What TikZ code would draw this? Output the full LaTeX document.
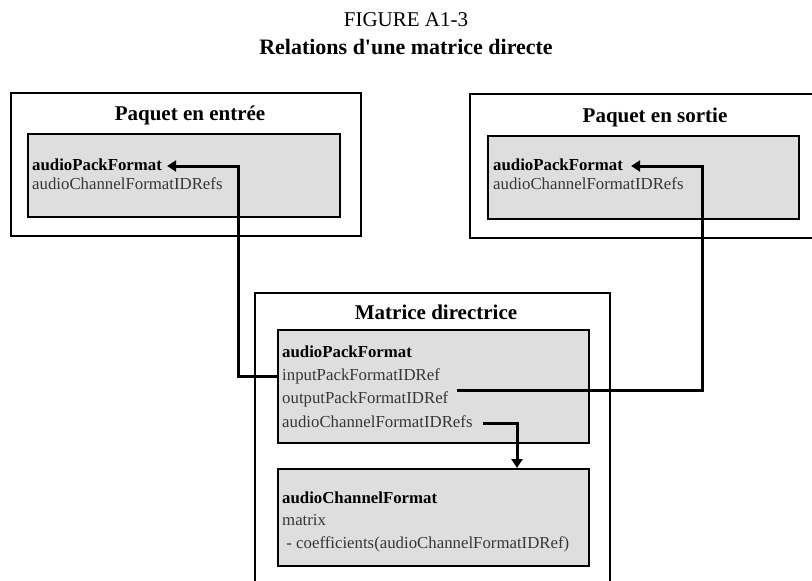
\documentclass[tikz,border=0pt]{standalone}
\usepackage{fontspec}
\setmainfont{Liberation Serif}[Ligatures=TeXOff]
\usetikzlibrary{arrows.meta}
\definecolor{boxfill}{HTML}{DEDEDE}
\definecolor{bodytext}{HTML}{363636}
\tikzset{
  outerbox/.style={draw=black, line width=2pt, fill=white, inner sep=0pt, anchor=north west},
  innerbox/.style={draw=black, line width=2.2pt, fill=boxfill, inner sep=0pt, anchor=north west},
  boxtitle/.style={font=\fontsize{21}{24}\selectfont\bfseries, inner sep=0pt, anchor=base},
  field/.style={font=\fontsize{16.8}{19}\selectfont, text=bodytext, inner sep=0pt, anchor=base west,
                text height=12pt, text depth=4pt},
  keyfield/.style={field, text=black, font=\fontsize{16.8}{19}\selectfont\bfseries},
  link/.style={draw=black, line width=3pt, line join=miter,
               -{Triangle[length=9pt,width=11pt]}},
}
\begin{document}
\begin{tikzpicture}[x=1pt,y=-1pt]
\path[use as bounding box, fill=white] (0,0) rectangle (812,581);
\begin{scope}
\clip (0,0) rectangle (812,581);

% heading
\node[font=\fontsize{21}{24}\selectfont, inner sep=0pt, anchor=base] (fig) at (406,26) {FIGURE A1-3};
\node[font=\fontsize{22}{26}\selectfont\bfseries, inner sep=0pt, anchor=base] (cap) at (406,54) {Relations d'une matrice directe};

% input pack
\node[outerbox, minimum width=350pt, minimum height=143pt] (inbox) at (10,92) {};
\node[boxtitle] (intitle) at (190,120) {Paquet en entrée};
\node[innerbox, minimum width=312pt, minimum height=83pt] (inpack) at (27,133) {};
\node[keyfield] (inPF) at (32,170) {audioPackFormat};
\node[field] (inCF) at (32,189) {audioChannelFormatIDRefs};

% output pack
\node[outerbox, minimum width=370pt, minimum height=144pt] (outbox) at (469,93) {};
\node[boxtitle] (outtitle) at (655,122) {Paquet en sortie};
\node[innerbox, minimum width=311pt, minimum height=83pt] (outpack) at (487,135) {};
\node[keyfield] (outPF) at (493,170) {audioPackFormat};
\node[field] (outCF) at (493,189) {audioChannelFormatIDRefs};

% matrix
\node[outerbox, minimum width=355pt, minimum height=320pt] (mtxbox) at (254,292) {};
\node[boxtitle] (mtxtitle) at (436,319) {Matrice directrice};
\node[innerbox, minimum width=311pt, minimum height=113pt] (mtxpack) at (277,329) {};
\node[keyfield] (mPF) at (282,357) {audioPackFormat};
\node[field] (mIn) at (282,380) {inputPackFormatIDRef};
\node[field] (mOut) at (282,403) {outputPackFormatIDRef};
\node[field] (mCF) at (282,427) {audioChannelFormatIDRefs};
\node[innerbox, minimum width=311pt, minimum height=97pt] (mtxchan) at (277,468) {};
\node[keyfield] (cCF) at (282,503) {audioChannelFormat};
\node[field] (cMx) at (282,525) {matrix};
\node[field] (cCo) at (282,548) {\ - coefficients(audioChannelFormatIDRef)};

% routing columns
\coordinate (leftcol) at (238,0);
\coordinate (rightcol) at (702,0);
\coordinate (downcol) at (517,0);

% input reference
\draw[link] (mIn.west -| mtxpack.west) -- (mIn.west -| leftcol) |- ([xshift=5pt]inPF.east);
% output reference
\coordinate (outstart) at ([xshift=8pt,yshift=9pt]mOut.east);
\draw[link] (outstart) -- (outstart -| rightcol) |- ([xshift=8pt]outPF.east);
% channel references
\draw[link] ([xshift=10pt]mCF.east) -| (downcol |- mtxchan.north);
\end{scope}
\end{tikzpicture}
\end{document}
